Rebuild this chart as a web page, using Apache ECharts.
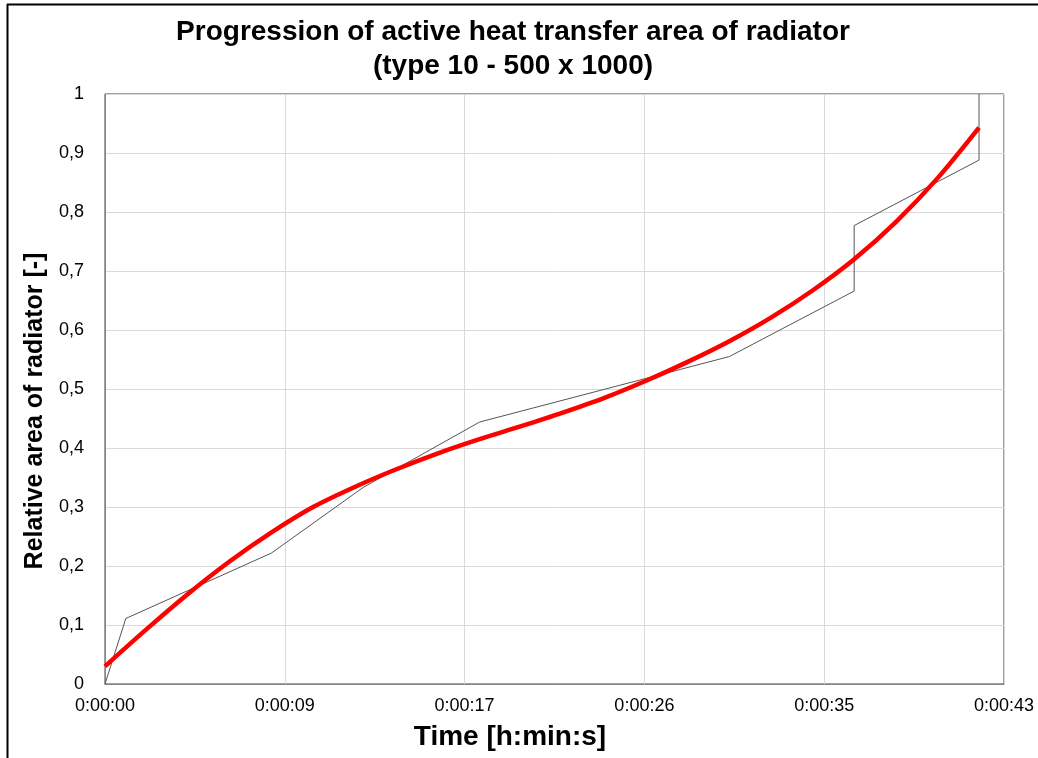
<!DOCTYPE html>
<html>
<head>
<meta charset="utf-8">
<script src="https://cdn.jsdelivr.net/npm/echarts@6/dist/echarts.min.js"></script>
<style>
html,body{margin:0;padding:0;background:#fff;}
#chart{width:1038px;height:758px;}
</style>
</head>
<body>
<div id="chart"></div>
<script>
// Time in seconds
var stepTimes  = [0, 1, 8, 12.4, 18, 30, 36, 36, 42, 42];
var stepValues = [0, 0.111, 0.222, 0.333, 0.444, 0.555, 0.666, 0.777, 0.888, 1];

var curveTimes  = [0, 2, 4, 6, 8, 10, 12, 14, 16, 18, 20, 22, 24, 26, 28, 30, 32, 34, 36, 38, 40, 42];
var curveValues = [0.030, 0.093, 0.153, 0.208, 0.257, 0.300, 0.334, 0.364, 0.391, 0.415, 0.437, 0.460, 0.485, 0.514, 0.546, 0.581, 0.621, 0.667, 0.720, 0.783, 0.857, 0.943];

var titleLines = ["Progression of active heat transfer area of radiator", "(type 10 - 500 x 1000)"];
var xAxisTitle = "Time [h:min:s]";
var yAxisTitle = "Relative area of radiator [-]";

function pairs(xs, ys){ return xs.map(function(x,i){ return [x, ys[i]]; }); }
function hms(v){
  var s = Math.round(v);
  var h = Math.floor(s/3600), m = Math.floor((s%3600)/60), ss = s%60;
  return h + ":" + (m<10?"0":"") + m + ":" + (ss<10?"0":"") + ss;
}

var chart = echarts.init(document.getElementById('chart'), null, {renderer:'canvas'});
var font = "'Liberation Sans', Arial, sans-serif";
chart.setOption({
  animation:false,
  backgroundColor:'#ffffff',
  title:{
    text: titleLines.join("\n"),
    left: 508, top: 10, textAlign:'center',
    textStyle:{fontFamily:font, fontWeight:'bold', fontSize:28, lineHeight:34, color:'#000'}
  },
  grid:{left:105, right:34, top:94, bottom:74, show:true, borderColor:'#404040', borderWidth:1},
  xAxis:{
    type:'value', min:0, max:43.2, interval:8.64,
    axisLine:{show:true, onZero:false, lineStyle:{color:'#868686'}},
    axisTick:{show:false},
    splitLine:{show:true, lineStyle:{color:'#d9d9d9'}},
    axisLabel:{formatter:hms, fontFamily:font, fontSize:18, color:'#000', margin:13, showMaxLabel:true, showMinLabel:true}
  },
  yAxis:{
    type:'value', min:0, max:1, interval:0.1,
    axisLine:{show:true, lineStyle:{color:'#868686'}},
    axisTick:{show:false},
    splitLine:{show:true, lineStyle:{color:'#d9d9d9'}},
    axisLabel:{formatter:function(v){ return String(Math.round(v*10)/10).replace('.', ','); }, fontFamily:font, fontSize:18, color:'#000', margin:21}
  },
  series:[
    {type:'line', data:pairs(stepTimes, stepValues), symbol:'none', lineStyle:{color:'#555555', width:1}, z:2},
    {type:'line', data:pairs(curveTimes, curveValues), symbol:'none', smooth:0.3, lineStyle:{color:'#ff0000', width:4.5}, z:3}
  ],
  graphic:[
    {type:'line', shape:{x1:7.5, y1:4, x2:7.5, y2:758}, style:{stroke:'#000', lineWidth:2}},
    {type:'line', shape:{x1:7, y1:4.5, x2:1038, y2:4.5}, style:{stroke:'#000', lineWidth:2}},
    {type:'text', x:510, y:737, style:{text:xAxisTitle, font:"bold 28px 'Liberation Sans', Arial, sans-serif", fill:'#000', textAlign:'center', textVerticalAlign:'middle'}},
    {type:'text', x:35, y:411, rotation:Math.PI/2, style:{text:yAxisTitle, font:"bold 25px 'Liberation Sans', Arial, sans-serif", fill:'#000', textAlign:'center', textVerticalAlign:'middle'}}
  ]
});
</script>
</body>
</html>
